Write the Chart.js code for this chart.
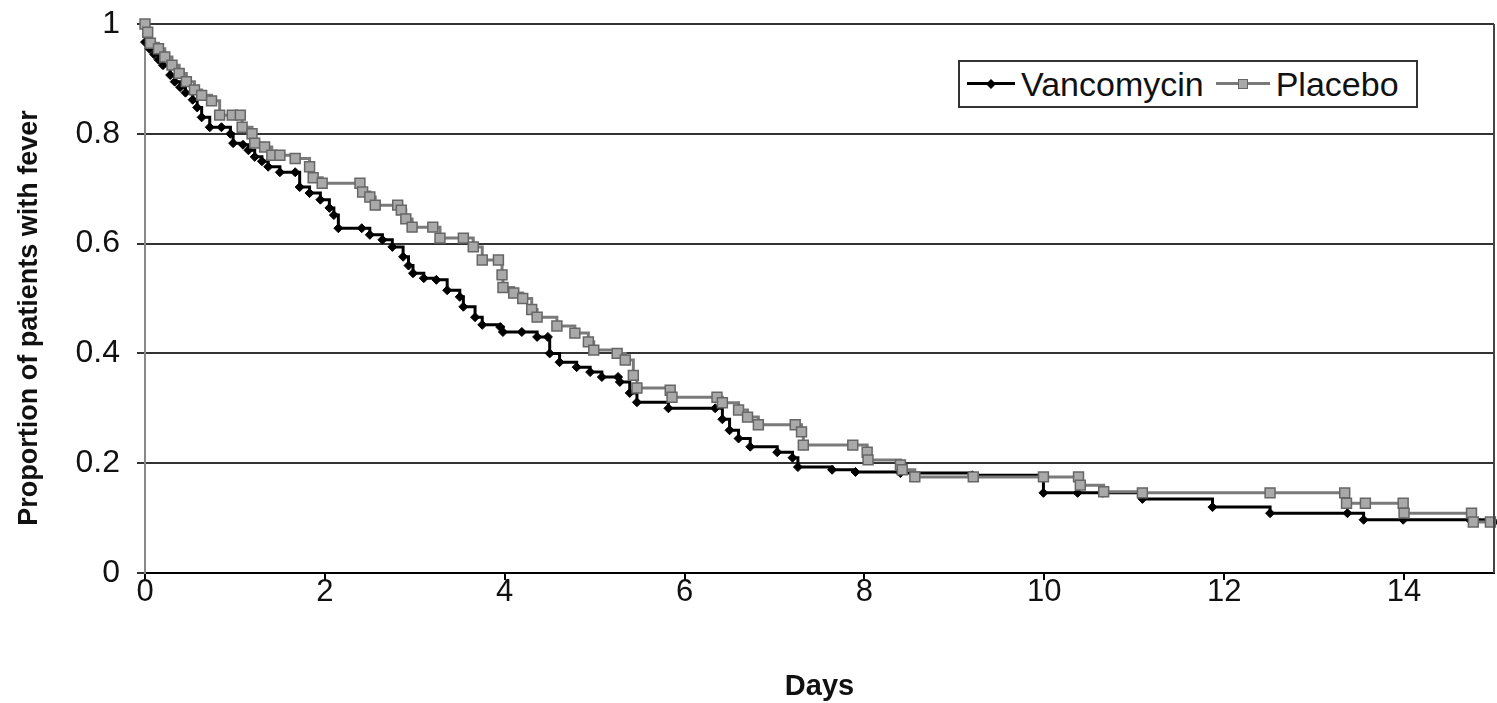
<!DOCTYPE html>
<html lang="en">
<head>
<meta charset="UTF-8">
<title>Proportion of patients with fever</title>
<script src="https://cdn.jsdelivr.net/npm/chart.js"></script>
<style>
    html, body { margin: 0; padding: 0; background: #fff; }
    body { width: 1497px; height: 703px; position: relative; overflow: hidden;
           font-family: 'Liberation Sans', Arial, sans-serif; }
    #wrap { position: absolute; left: 0; top: 0; width: 1497px; height: 703px; }
    .legend {
        position: absolute; left: 958px; top: 60px; width: 460px; height: 48px;
        border: 2px solid #333; background: #fff; box-sizing: border-box;
        display: flex; align-items: center; font-size: 34px; color: #111;
    }
    .item { display: flex; align-items: center; }
    .sample { position: relative; width: 48px; height: 20px; margin: 0 6px 0 7px; }
    .sample .ln { position: absolute; left: 0; right: 0; top: 8px; height: 3px; }
    .sample .mk { position: absolute; left: 50%; top: 50%; }
    .vanc .ln { background: #000; }
    .vanc .mk { width: 7px; height: 7px; background: #000; transform: translate(-50%, -50%) rotate(45deg); }
    .plac .ln { background: #7a7a7a; }
    .plac .mk { width: 8px; height: 8px; background: #a9a9a9; border: 1px solid #666; transform: translate(-50%, -50%); }
</style>
</head>
<body>
<div id="wrap"><canvas id="chart" width="1497" height="703"></canvas></div>
<div class="legend">
    <div class="item vanc"><span class="sample"><span class="ln"></span><span class="mk"></span></span>Vancomycin</div>
    <div class="item plac"><span class="sample" style="margin-left:12px;width:54px"><span class="ln"></span><span class="mk"></span></span>Placebo</div>
</div>
<script>
// Kaplan-Meier style steps: time in days and proportion still febrile
const vancDays = [0, 0.05, 0.1, 0.15, 0.2, 0.28, 0.33, 0.39, 0.45, 0.53, 0.58, 0.63, 0.72, 0.85, 0.95, 0.98,
    1.09, 1.15, 1.22, 1.3, 1.37, 1.5, 1.67, 1.72, 1.83, 1.95, 2.05, 2.1, 2.15, 2.41, 2.5, 2.64, 2.75, 2.87,
    2.93, 2.98, 3.1, 3.24, 3.36, 3.5, 3.54, 3.67, 3.75, 3.95, 3.98, 4.19, 4.36, 4.48, 4.5, 4.61, 4.8, 4.95,
    5.08, 5.26, 5.28, 5.39, 5.47, 5.82, 6.34, 6.42, 6.5, 6.6, 6.73, 7.03, 7.2, 7.26, 7.64, 7.9, 8.4, 9.2,
    9.99, 10.37, 10.65, 11.09, 11.87, 12.51, 13.37, 13.55, 13.99, 14.73, 15];
const vancProp = [0.967, 0.955, 0.945, 0.935, 0.925, 0.907, 0.895, 0.885, 0.875, 0.862, 0.848, 0.83, 0.812, 0.812, 0.8, 0.783,
    0.78, 0.77, 0.758, 0.75, 0.74, 0.73, 0.73, 0.703, 0.692, 0.68, 0.665, 0.652, 0.628, 0.628, 0.616, 0.607, 0.594, 0.576,
    0.56, 0.546, 0.537, 0.534, 0.515, 0.503, 0.485, 0.466, 0.452, 0.448, 0.439, 0.439, 0.43, 0.43, 0.4, 0.384, 0.375, 0.366,
    0.357, 0.357, 0.348, 0.328, 0.311, 0.3, 0.3, 0.28, 0.26, 0.245, 0.23, 0.22, 0.21, 0.193, 0.188, 0.184, 0.182, 0.178,
    0.146, 0.146, 0.146, 0.135, 0.12, 0.109, 0.109, 0.097, 0.097, 0.097, 0.093];

const placDays = [0, 0.03, 0.06, 0.15, 0.22, 0.3, 0.38, 0.46, 0.55, 0.63, 0.74, 0.83, 0.97, 1.06, 1.08, 1.19,
    1.22, 1.33, 1.41, 1.5, 1.67, 1.83, 1.87, 1.97, 2.39, 2.42, 2.5, 2.56, 2.81, 2.85, 2.9, 2.97, 3.2, 3.28,
    3.54, 3.65, 3.75, 3.93, 3.97, 3.98, 4.1, 4.2, 4.3, 4.36, 4.58, 4.78, 4.93, 4.99, 5.25, 5.34, 5.43, 5.47,
    5.84, 5.86, 6.36, 6.42, 6.6, 6.7, 6.82, 7.23, 7.3, 7.32, 7.87, 8.03, 8.04, 8.4, 8.42, 8.56, 9.21, 9.99,
    10.38, 10.4, 10.66, 11.09, 12.51, 13.34, 13.36, 13.57, 13.99, 14.0, 14.75, 14.77, 14.96];
const placProp = [1.0, 0.985, 0.965, 0.955, 0.94, 0.925, 0.91, 0.895, 0.88, 0.87, 0.86, 0.834, 0.834, 0.834, 0.812, 0.8,
    0.783, 0.776, 0.761, 0.761, 0.755, 0.74, 0.72, 0.71, 0.71, 0.694, 0.685, 0.67, 0.67, 0.661, 0.645, 0.63, 0.63, 0.61,
    0.61, 0.594, 0.57, 0.57, 0.543, 0.52, 0.51, 0.5, 0.48, 0.466, 0.45, 0.437, 0.421, 0.406, 0.4, 0.388, 0.36, 0.337,
    0.333, 0.32, 0.32, 0.31, 0.297, 0.284, 0.27, 0.27, 0.257, 0.233, 0.233, 0.22, 0.206, 0.197, 0.188, 0.175, 0.175, 0.175,
    0.175, 0.16, 0.148, 0.146, 0.146, 0.146, 0.127, 0.127, 0.127, 0.109, 0.109, 0.093, 0.093];

const xTicks = [0, 2, 4, 6, 8, 10, 12, 14];
const yTicks = [0, 0.2, 0.4, 0.6, 0.8, 1];
const yTitle = 'Proportion of patients with fever';

const toPoints = (xs, ys) => xs.map((x, i) => ({ x: x, y: ys[i] }));
const font = "'Liberation Sans', Arial, sans-serif";

// frame line on the right of the plot, and the rotated y title
const decorations = {
    id: 'decorations',
    afterDatasetsDraw(chart) {
        const a = chart.chartArea, ctx = chart.ctx;
        ctx.save();
        ctx.strokeStyle = '#444';
        ctx.lineWidth = 2;
        ctx.beginPath();
        ctx.moveTo(a.right, a.top);
        ctx.lineTo(a.right, a.bottom);
        ctx.stroke();

        ctx.translate(30, 318);
        ctx.rotate(-Math.PI / 2);
        ctx.fillStyle = '#111';
        ctx.font = "bold 27px " + font;
        ctx.textAlign = 'center';
        ctx.textBaseline = 'middle';
        ctx.fillText(yTitle, 0, 0);
        ctx.restore();
    }
};

// let the layout padding alone decide where the plot edges sit
const noLabelPadding = s => {
    s.paddingTop = 0; s.paddingBottom = 0;
    s.paddingLeft = 0; s.paddingRight = 0;
};

new Chart(document.getElementById('chart'), {
    type: 'line',
    data: {
        datasets: [{
            label: 'Vancomycin',
            data: toPoints(vancDays, vancProp),
            stepped: true,
            borderColor: '#000',
            borderWidth: 3,
            pointStyle: 'rectRot',
            pointRadius: 4.5,
            pointBackgroundColor: '#000',
            pointBorderColor: '#000',
            pointBorderWidth: 1,
            clip: false,
            order: 2
        }, {
            label: 'Placebo',
            data: toPoints(placDays, placProp),
            stepped: true,
            borderColor: '#7a7a7a',
            borderWidth: 3,
            pointStyle: 'rect',
            pointRadius: 7,
            pointBackgroundColor: '#a9a9a9',
            pointBorderColor: '#666',
            pointBorderWidth: 1.5,
            clip: false,
            order: 1
        }]
    },
    options: {
        responsive: false,
        animation: false,
        layout: { autoPadding: false, padding: { left: 0, right: 3, top: 24, bottom: 0 } },
        plugins: { legend: { display: false }, tooltip: { enabled: false } },
        scales: {
            x: {
                type: 'linear',
                min: 0,
                max: 15,
                afterBuildTicks: s => { s.ticks = xTicks.map(v => ({ value: v })); },
                afterFit: s => { s.height = 130; noLabelPadding(s); },
                ticks: { font: { family: font, size: 31 }, color: '#111', padding: -6, maxRotation: 0 },
                grid: { drawOnChartArea: false, drawTicks: true, tickLength: 7, color: '#000', lineWidth: 2 },
                border: { color: '#000', width: 2 },
                title: {
                    display: true, text: 'Days', color: '#111',
                    font: { family: font, size: 29, weight: 'bold', lineHeight: 1.1 },
                    padding: { top: 0, bottom: 0 }
                }
            },
            y: {
                min: 0,
                max: 1,
                afterBuildTicks: s => { s.ticks = yTicks.map(v => ({ value: v })); },
                afterFit: s => { s.width = 145; noLabelPadding(s); },
                ticks: { font: { family: font, size: 32 }, color: '#111', padding: 17, callback: v => String(v) },
                grid: { color: '#333', lineWidth: 2, tickLength: 8 },
                border: { color: '#888', width: 2 }
            }
        }
    },
    plugins: [decorations]
});
</script>
</body>
</html>
